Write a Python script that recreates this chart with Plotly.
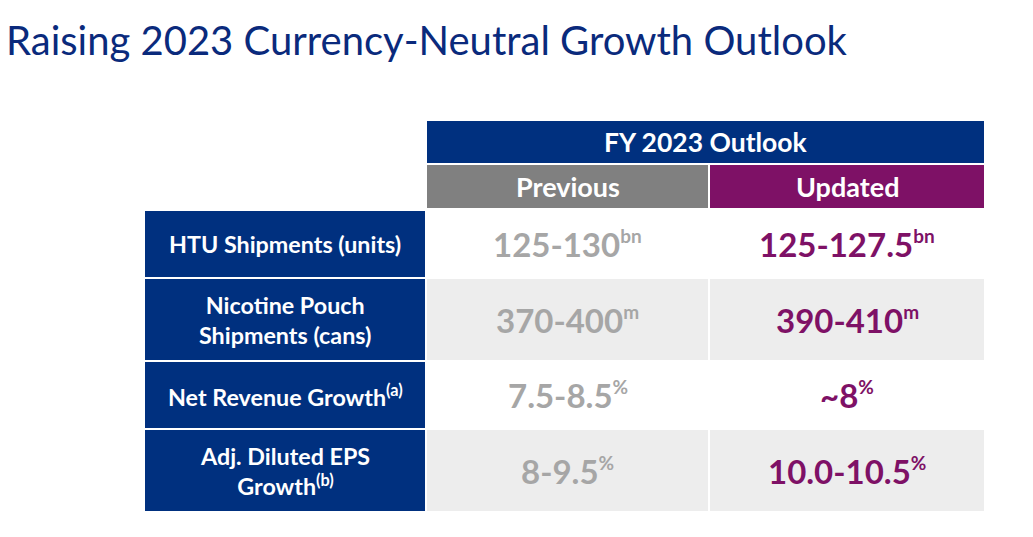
import plotly.graph_objects as go

# table content
title = "Raising 2023 Currency-Neutral Growth Outlook"
group_header = "FY 2023 Outlook"
columns = ["Previous", "Updated"]
metrics = [
    "HTU Shipments (units)",
    "Nicotine Pouch<br>Shipments (cans)",
    "Net Revenue Growth<sup>(a)</sup>",
    "Adj. Diluted EPS<br>Growth<sup>(b)</sup>",
]
previous = ["125-130", "370-400", "7.5-8.5", "8-9.5"]
updated = ["125-127.5", "390-410", "~8", "10.0-10.5"]
units = ["bn", "m", "%", "%"]

# styling
NAVY = "#00307F"
GREY_HEAD = "#808080"
PURPLE = "#7E1166"
GREY_TEXT = "#A6A6A6"
ROW_SHADE = "#EDEDED"
FONT = "Lato"

W, H = 1033, 537
col_edges = [145, 427, 710, 984]
gap = 2
head1 = (121, 163)
head2 = (165, 208)
row_top = 211
line_h = {1: 66, 2: 81}

fig = go.Figure()
shapes = []
annotations = []


def cell(x0, x1, y0, y1, color):
    shapes.append(dict(type="rect", xref="x", yref="y", x0=x0, x1=x1, y0=y0, y1=y1,
                       fillcolor=color, line=dict(width=0), layer="below"))


def text(x, y, s, size, color, bold=True):
    annotations.append(dict(xref="x", yref="y", x=x, y=y, text=s, showarrow=False,
                            xanchor="center", yanchor="middle", align="center",
                            font=dict(family=FONT, size=size, color=color,
                                      weight="bold" if bold else "normal")))


# group header
cell(col_edges[1], col_edges[3], head1[0], head1[1], NAVY)
text((col_edges[1] + col_edges[3]) / 2, sum(head1) / 2, group_header, 26.5, "white")

# column headers
for i, (name, color) in enumerate(zip(columns, [GREY_HEAD, PURPLE])):
    x0 = col_edges[i + 1]
    x1 = col_edges[i + 2] - (gap if i == 0 else 0)
    cell(x0, x1, head2[0], head2[1], color)
    text((x0 + x1) / 2, sum(head2) / 2, name, 27, "white")

# body rows
y = row_top
for r, (label, prev, upd, unit) in enumerate(zip(metrics, previous, updated, units)):
    h = line_h[label.count("<br>") + 1]
    y0, y1 = y, y + h
    bg = "white" if r % 2 == 0 else ROW_SHADE
    cell(col_edges[0], col_edges[1] - gap, y0, y1, NAVY)
    text((col_edges[0] + col_edges[1] - gap) / 2, (y0 + y1) / 2, label, 23.3, "white")
    for c, (val, color) in enumerate([(prev, GREY_TEXT), (upd, PURPLE)]):
        x0 = col_edges[c + 1]
        x1 = col_edges[c + 2] - (gap if c == 0 else 0)
        cell(x0, x1, y0, y1, bg)
        text((x0 + x1) / 2, (y0 + y1) / 2,
             f"{val}<sup><span style='font-size:19px'>{unit}</span></sup>", 33, color)
    y = y1 + gap

fig.update_layout(
    width=W, height=H,
    margin=dict(l=0, r=0, t=0, b=0),
    paper_bgcolor="white", plot_bgcolor="white",
    xaxis=dict(range=[0, W], visible=False, fixedrange=True),
    yaxis=dict(range=[H, 0], visible=False, fixedrange=True),
    shapes=shapes,
    annotations=annotations + [
        dict(xref="paper", yref="paper", x=0.004, y=1 - 40 / H, xanchor="left",
             yanchor="middle", showarrow=False, text=title,
             font=dict(family=FONT, size=40, color="#0A2A7C")),
    ],
    showlegend=False,
)

fig.write_html("out.html", config={"displayModeBar": False},
               post_script="document.body.style.margin='0';")
